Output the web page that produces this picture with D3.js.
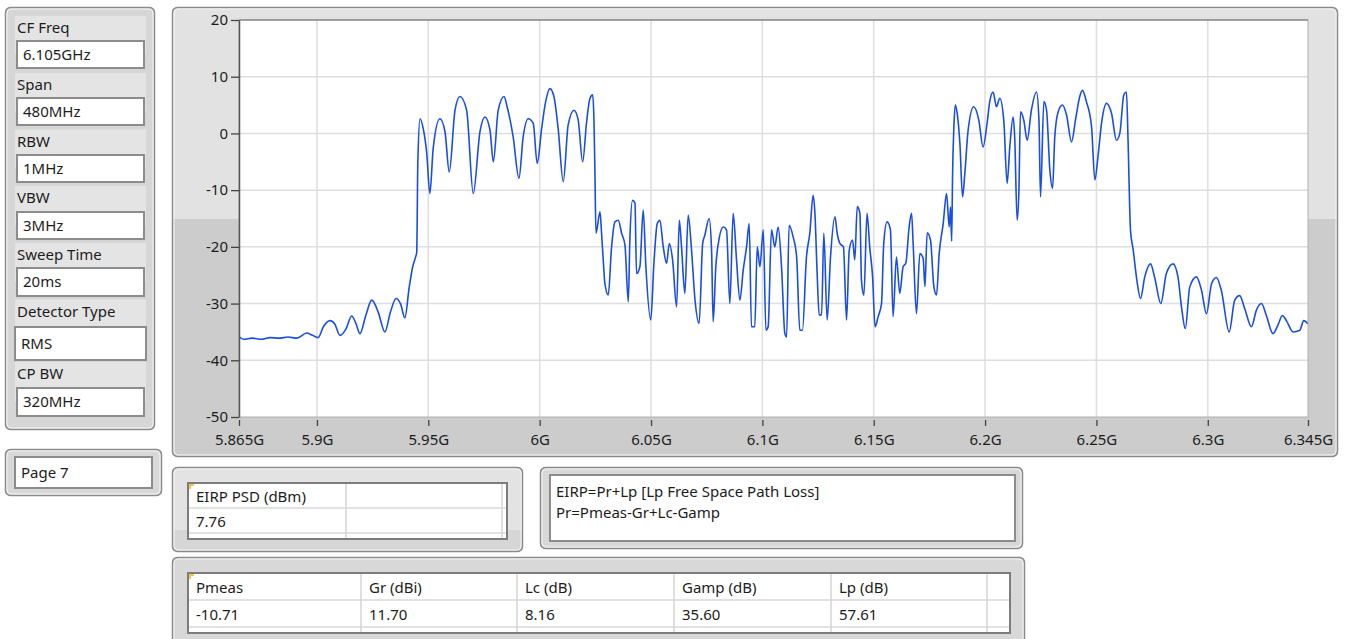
<!DOCTYPE html>
<html><head><meta charset="utf-8">
<script src="https://cdn.jsdelivr.net/npm/d3@7"></script>
<style>
html,body{margin:0;padding:0;background:#fff;overflow:hidden;}
svg{display:block;font-family:"Noto Sans",sans-serif;}
</style></head><body>
<svg id="c" width="1347" height="639"></svg>
<script>
// ---------- DATA ----------
const freqMHz = [5865,5867,5871,5875,5879,5883,5887,5891,5895.4,5898,5900.5,5903,5905.9,5908,5910.3,5913,5915.6,5917.5,5919.3,5922,5924.6,5927.5,5930.5,5933,5935.5,5937.5,5939.5,5941.4,5943,5944.5,5944.8,5945.3,5946.3,5947.7,5949.3,5950.7,5952.2,5955.2,5957.5,5959.4,5962,5964.2,5967.2,5970.2,5973.2,5975.4,5977.7,5979.2,5981.4,5984,5985.4,5988.1,5990.7,5992.6,5994.9,5997.1,5998.9,6000.9,6002.7,6004.6,6006.4,6008.3,6010.6,6012.8,6015.4,6017.3,6019.3,6021.1,6022.6,6023.8,6024.4,6024.8,6025.3,6027.1,6027.8,6028.5,6029.3,6030.8,6032.3,6033.8,6035.3,6036.8,6038.3,6039.8,6040.5,6041.7,6042.8,6043.5,6045,6046.5,6047.7,6049.9,6051.3,6052.8,6054,6055.5,6057,6058.2,6059.7,6061.5,6062.7,6063.7,6065.2,6066.7,6068.2,6069.7,6071.6,6073.2,6074.2,6076.1,6077.2,6077.9,6079.1,6080.6,6082.4,6083.9,6085.4,6086.9,6088.4,6089.9,6091.4,6092.9,6094.1,6095.1,6096.6,6097.7,6098.9,6100.4,6101.6,6102.6,6104.1,6105.6,6107.1,6108.6,6110.1,6110.9,6112,6113.8,6115.4,6116.8,6118,6119.8,6121.3,6122.8,6123.6,6124.6,6125.5,6126.6,6127.6,6129.1,6130.6,6132.6,6133.6,6134.8,6136.4,6137.8,6139,6140.5,6141.5,6142.6,6143.8,6144.5,6145.6,6147,6148.2,6149.5,6150.6,6152,6153.5,6154.5,6156,6157.5,6158.7,6160.2,6161.7,6163.2,6164.4,6165.9,6167,6167.7,6169.2,6170.7,6172.2,6173,6174,6175.5,6177,6178.2,6179.4,6181.2,6182.7,6183.9,6184.5,6185,6185.4,6186,6186.6,6187.5,6188.7,6189.9,6190.9,6192.4,6194.9,6197.2,6199.1,6200.9,6202.1,6203.6,6205.1,6206.6,6208.4,6209.9,6211.1,6212.6,6213.3,6214.4,6215.2,6215.9,6217.4,6218.9,6220.8,6223.1,6224.2,6224.9,6226.4,6227.6,6229.1,6230.3,6231.3,6232.8,6234.8,6236.6,6238.8,6240.7,6242.5,6243.7,6245.5,6247.8,6249.3,6250.7,6252.3,6254.5,6256.8,6259,6260.5,6262.3,6263.5,6264.2,6265.3,6266.5,6268.2,6269.8,6271.7,6274.3,6276.2,6278.9,6281.4,6284.4,6286.6,6288.2,6289.9,6291.9,6294.9,6297.2,6299.4,6301.7,6303.9,6306.1,6309.6,6312.1,6314.3,6316.6,6319.6,6321.8,6324.1,6326.3,6329.3,6331.5,6333.5,6335.3,6338.3,6341.3,6343.1,6345];
const levelDbm = [-35.8,-36.3,-36.1,-36.3,-36.0,-36.1,-35.9,-36.1,-35.2,-35.6,-36.0,-34.0,-33.0,-33.6,-35.6,-34.5,-32.2,-33.5,-35.3,-32.0,-29.4,-31.5,-35.0,-31.5,-29.1,-30.0,-32.5,-27.2,-23.5,-21.5,-21.0,-5.0,2.6,0.9,-3.5,-10.6,-2.6,2.6,0.3,-6.8,4.1,6.5,4.1,-10.6,0.3,2.9,0.6,-5.0,4.1,6.5,4.7,-0.6,-7.9,-0.6,2.6,1.8,-5.3,0.9,5.6,7.9,6.5,0.9,-8.5,1.5,4.1,2.4,-5.0,2.1,6.2,6.8,2.1,-6.5,-17.6,-13.8,-17.6,-22,-26.5,-28.5,-20,-15.6,-15.3,-17.6,-19.7,-29.7,-18.8,-11.8,-12.3,-24.7,-23.5,-13.5,-23.5,-32.9,-22.9,-15.9,-15.3,-20,-22.9,-19.4,-22.3,-30.6,-15.3,-20,-28.2,-14.4,-20.6,-29.1,-33.5,-19.4,-17.9,-15,-20.6,-33.2,-23.5,-18.5,-16.5,-17,-30,-14.1,-22.3,-29.4,-24.1,-20,-15.9,-34.1,-34.1,-20,-23.5,-17,-34.7,-34.1,-17,-20,-16.5,-23.5,-35.3,-35.9,-16.2,-18.2,-21.8,-34.7,-34.7,-21.8,-17.6,-10.9,-14.1,-24.7,-32,-32,-17.6,-32.9,-21.8,-14.7,-17.6,-19.4,-20,-32.9,-20.6,-18.8,-22.3,-12.9,-14.1,-25.9,-28.5,-14.1,-20,-25.3,-34.1,-32.3,-30,-19.4,-15.6,-17,-32.3,-21.8,-28.2,-23.5,-22.9,-16.5,-14.1,-19.4,-31.8,-21.2,-22,-27,-17.5,-18.8,-27,-28.5,-21.2,-15.9,-10.6,-16.5,-13,-19,-7.4,1.2,5,3.5,-1.8,-11.2,-7.1,0.6,4.7,2.3,-2.4,1.8,5.6,7.3,4.7,6.2,2.3,-8.8,-2.4,2.9,-0.6,-15.3,-10,3.8,2.3,-1.2,4.1,7.3,2.3,-11.2,5.6,4.1,-6.5,-9.7,-0.6,3.8,5,3.2,-1.5,2.6,6.5,7.6,5.6,1.2,-8.2,-4.1,1.8,5.3,3.5,-1.2,0,6.8,7.3,-1.2,-17.1,-20.5,-26,-29.1,-25.3,-23,-25.5,-30,-24.7,-23,-25.3,-30.6,-34.4,-27.1,-25.3,-27.7,-31.8,-26.5,-25.4,-27.7,-35,-29.4,-28.6,-30.9,-34.1,-31.2,-30,-32.1,-35.3,-33.8,-32.1,-33,-35,-34.7,-33,-33.6];
const xTickValues = [5865,5900,5950,6000,6050,6100,6150,6200,6250,6300,6345];
const xTickLabels = ["5.865G","5.9G","5.95G","6G","6.05G","6.1G","6.15G","6.2G","6.25G","6.3G","6.345G"];
const yTickValues = [-50,-40,-30,-20,-10,0,10,20];
const yTickLabels = ["-50","-40","-30","-20","-10","0","10","20"];
const settingLabels = ["CF Freq","Span","RBW","VBW","Sweep Time","Detector Type","CP BW"];
const settingValues = ["6.105GHz","480MHz","1MHz","3MHz","20ms","RMS","320MHz"];
const pageLabel = "Page 7";
const eirpHeaders = ["EIRP PSD (dBm)",""];
const eirpValues = ["7.76",""];
const paramHeaders = ["Pmeas","Gr (dBi)","Lc (dB)","Gamp (dB)","Lp (dB)"];
const paramValues = ["-10.71","11.70","8.16","35.60","57.61"];
const formulaLines = ["EIRP=Pr+Lp [Lp Free Space Path Loss]","Pr=Pmeas-Gr+Lc-Gamp"];

// ---------- DRAW ----------
const svg = d3.select("#c");
const TXT = "#1c1c1c";

function panel(x, y, w, h, split, topFill, botFill) {
  const g = svg.append("g");
  const id = "clip" + Math.round(x) + "_" + Math.round(y);
  g.append("clipPath").attr("id", id).append("rect")
    .attr("x", x).attr("y", y).attr("width", w).attr("height", h).attr("rx", 5);
  const inner = g.append("g").attr("clip-path", `url(#${id})`);
  inner.append("rect").attr("x", x).attr("y", y).attr("width", w).attr("height", h).attr("fill", botFill);
  if (split) inner.append("rect").attr("x", x).attr("y", y).attr("width", w).attr("height", split - y).attr("fill", topFill);
  g.append("rect").attr("x", x + 0.5).attr("y", y + 0.5).attr("width", w - 1).attr("height", h - 1).attr("rx", 5)
    .attr("fill", "none").attr("stroke", "#8a8a8a").attr("stroke-width", 1.5);
  g.append("rect").attr("x", x + 2).attr("y", y + 2).attr("width", w - 4).attr("height", h - 4).attr("rx", 4)
    .attr("fill", "none").attr("stroke", "#f4f4f4").attr("stroke-width", 1);
  return g;
}
function textBox(x, y, w, h) {
  svg.append("rect").attr("x", x).attr("y", y).attr("width", w).attr("height", h).attr("fill", "#fff")
    .attr("stroke", "#8c8c8c").attr("stroke-width", 2);
}

// Left settings panel
panel(5, 7, 150, 423, null, "#dcdcdc", "#d6d6d6");
const labelCY = [28, 85, 141.5, 198, 255, 311.5, 374];
const boxTop = [41, 98, 155, 212, 268, 327, 388];
const boxH = [27, 27, 27, 27, 28, 33, 28];
settingLabels.forEach((lab, i) => {
  svg.append("rect").attr("x", 15).attr("y", labelCY[i] - 12).attr("width", 131)
    .attr("height", boxTop[i] - labelCY[i] + 12 + boxH[i] / 2).attr("fill", "#e4e4e4");
});
settingLabels.forEach((lab, i) => {
  svg.append("text").attr("x", 17).attr("y", labelCY[i]).attr("dy", "0.35em")
    .attr("font-size", 15).attr("fill", TXT).text(lab);
  const bx = i === 5 ? 15 : 17, bw = i === 5 ? 131 : 127;
  textBox(bx, boxTop[i], bw, boxH[i]);
  svg.append("text").attr("x", bx + 6).attr("y", boxTop[i] + boxH[i] / 2).attr("dy", "0.35em")
    .attr("font-size", 15).attr("fill", TXT).text(settingValues[i]);
});

// Page panel
panel(5, 449, 157, 47, null, "#dcdcdc", "#d8d8d8");
textBox(15, 457, 137, 31);
svg.append("text").attr("x", 21).attr("y", 472.5).attr("dy", "0.35em").attr("font-size", 15).attr("fill", TXT).text(pageLabel);

// Chart frame
panel(172, 7, 1166, 450, 219, "#e2e2e2", "#cccccc");

const x = d3.scaleLinear().domain([5865, 6345]).range([239, 1308]);
const y = d3.scaleLinear().domain([-50, 20]).range([417, 20]);

svg.append("rect").attr("x", x.range()[0]).attr("y", y.range()[1]).attr("width", x.range()[1] - x.range()[0])
  .attr("height", y.range()[0] - y.range()[1]).attr("fill", "#fff");

// grid
svg.append("g").selectAll("line").data(xTickValues.slice(1, -1)).join("line")
  .attr("x1", d => x(d)).attr("x2", d => x(d)).attr("y1", y(20)).attr("y2", y(-50))
  .attr("stroke", "#dedede").attr("stroke-width", 1.5);
svg.append("g").selectAll("line").data(yTickValues.slice(1, -1)).join("line")
  .attr("x1", x(5865)).attr("x2", x(6345)).attr("y1", d => y(d)).attr("y2", d => y(d))
  .attr("stroke", "#dedede").attr("stroke-width", 1.5);

// trace
const line = d3.line().x((d, i) => x(freqMHz[i])).y(d => y(d)).curve(d3.curveMonotoneX);
svg.append("path").attr("d", line(levelDbm)).attr("fill", "none")
  .attr("stroke", "#1a4de4").attr("stroke-width", 1.6).attr("stroke-linejoin", "round");

// plot border
svg.append("rect").attr("x", x(5865)).attr("y", y(20)).attr("width", x(6345) - x(5865)).attr("height", y(-50) - y(20))
  .attr("fill", "none").attr("stroke", "#b0b0b0").attr("stroke-width", 1);
svg.append("line").attr("x1", x(5865)).attr("x2", x(6345)).attr("y1", y(20)).attr("y2", y(20)).attr("stroke", "#6e6e6e").attr("stroke-width", 1.2);

// axes
const yAxis = d3.axisLeft(y).tickValues(yTickValues).tickFormat((d, i) => yTickLabels[i]).tickSize(8).tickSizeOuter(0).tickPadding(3);
const gy = svg.append("g").attr("transform", `translate(${x(5865)},0)`).call(yAxis);
gy.select(".domain").attr("stroke", "#555").attr("stroke-width", 1.5);
gy.selectAll(".tick line").attr("stroke", "#444").attr("stroke-width", 1.3);
gy.selectAll("text").attr("font-size", 15).attr("fill", TXT).attr("font-family", "Noto Sans");

const xAxis = d3.axisBottom(x).tickValues(xTickValues).tickFormat((d, i) => xTickLabels[i]).tickSize(9).tickSizeOuter(0).tickPadding(8);
const gx = svg.append("g").attr("transform", `translate(0,${y(-50)})`).call(xAxis);
gx.select(".domain").remove();
gx.selectAll(".tick line").attr("y1", 3).attr("stroke", "#444").attr("stroke-width", 1.3);
gx.selectAll("text").attr("font-size", 15).attr("fill", TXT).attr("font-family", "Noto Sans");

// EIRP table panel
panel(172, 467, 351, 85, 530, "#e3e3e3", "#d6d6d6");
function table(x0, y0, colX, rowH, headers, values, right) {
  const h = rowH * 2 + 6;
  svg.append("rect").attr("x", x0).attr("y", y0).attr("width", right - x0).attr("height", h).attr("fill", "#fff");
  svg.append("line").attr("x1", x0).attr("x2", right).attr("y1", y0 + rowH).attr("y2", y0 + rowH).attr("stroke", "#d8d8d8").attr("stroke-width", 1.5);
  svg.append("line").attr("x1", x0).attr("x2", right).attr("y1", y0 + rowH * 2).attr("y2", y0 + rowH * 2).attr("stroke", "#d8d8d8").attr("stroke-width", 1.5);
  colX.slice(1).forEach(cx => svg.append("line").attr("x1", cx).attr("x2", cx).attr("y1", y0).attr("y2", y0 + h).attr("stroke", "#d4d4d4").attr("stroke-width", 1.5));
  svg.append("rect").attr("x", x0).attr("y", y0).attr("width", right - x0).attr("height", h).attr("fill", "none").attr("stroke", "#7c7c7c").attr("stroke-width", 2);
  svg.append("path").attr("d", `M${x0 + 2},${y0 + 6}V${y0 + 2}H${x0 + 6}`).attr("fill", "none").attr("stroke", "#f2b21a").attr("stroke-width", 1.5);
  headers.forEach((t, i) => svg.append("text").attr("x", colX[i] + 8).attr("y", y0 + rowH / 2 + 1).attr("dy", "0.35em").attr("font-size", 15).attr("fill", TXT).text(t));
  values.forEach((t, i) => svg.append("text").attr("x", colX[i] + 8).attr("y", y0 + rowH * 1.5 + 1).attr("dy", "0.35em").attr("font-size", 15).attr("fill", TXT).text(t));
}
table(188, 483, [188, 346, 502], 25, eirpHeaders, eirpValues, 507);

// Formula panel
panel(540, 467, 483, 82, null, "#dedede", "#d8d8d8");
textBox(550, 475, 465, 66);
formulaLines.forEach((t, i) => svg.append("text").attr("x", 556).attr("y", 491.5 + i * 21.5).attr("dy", "0.35em")
  .attr("font-size", 15).attr("fill", TXT).text(t));

// Parameters table panel
panel(172, 557, 853, 100, null, "#dedede", "#d8d8d8");
table(188, 573, [188, 361, 517, 674, 831, 987], 27, paramHeaders, paramValues, 1010);
</script>
</body></html>
